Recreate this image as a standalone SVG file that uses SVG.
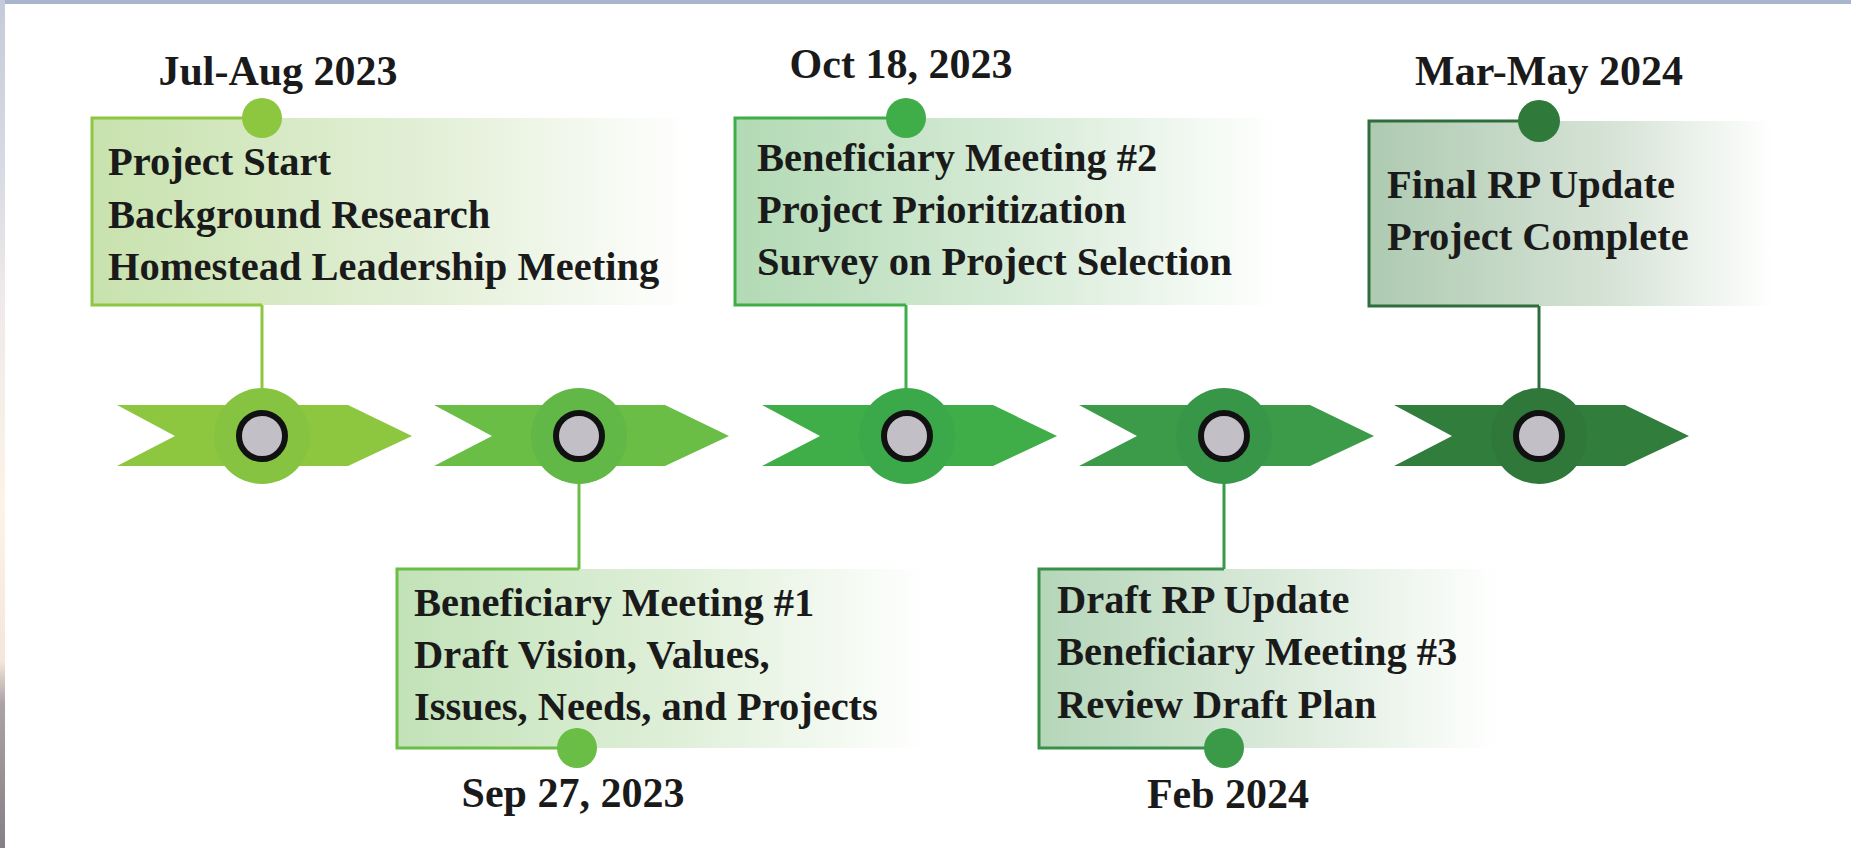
<svg xmlns="http://www.w3.org/2000/svg" xmlns:xlink="http://www.w3.org/1999/xlink" width="1851" height="848" viewBox="0 0 1851 848">
<style>
.t{font-family:"Liberation Serif","DejaVu Serif",serif;font-weight:bold;font-size:40.5px;fill:#1a1a1a}
.d{font-family:"Liberation Serif","DejaVu Serif",serif;font-weight:bold;font-size:42px;fill:#1a1a1a;text-anchor:middle}
.ring{fill:#c2c0c6;stroke:#111;stroke-width:6}
.br{fill:none;stroke-width:3}
.cn{fill:none;stroke-width:3}
</style>
<defs>
<path id="arrow" d="M-145,-31 H86 L150,0 L86,30 H-145 L-87,0 Z"/>
<linearGradient id="edge" x1="0" y1="0" x2="0" y2="1">
<stop offset="0" stop-color="#c4cbd8"/>
<stop offset="0.2" stop-color="#d8dbe3"/>
<stop offset="0.35" stop-color="#efe9ea"/>
<stop offset="0.6" stop-color="#fcf4e6"/>
<stop offset="0.78" stop-color="#f5e5da"/>
<stop offset="0.83" stop-color="#aaa2a6"/>
<stop offset="1" stop-color="#858086"/>
</linearGradient>
<linearGradient id="g1" x1="0" y1="0" x2="1" y2="0">
<stop offset="0" stop-color="#c8e2ae"/>
<stop offset="0.55" stop-color="#e2efd6"/>
<stop offset="1" stop-color="#ffffff"/>
</linearGradient>
<linearGradient id="g2" x1="0" y1="0" x2="1" y2="0">
<stop offset="0" stop-color="#c2e2b8"/>
<stop offset="0.55" stop-color="#e0f0da"/>
<stop offset="1" stop-color="#ffffff"/>
</linearGradient>
<linearGradient id="g3" x1="0" y1="0" x2="1" y2="0">
<stop offset="0" stop-color="#b2dab4"/>
<stop offset="0.55" stop-color="#d9ecd9"/>
<stop offset="1" stop-color="#ffffff"/>
</linearGradient>
<linearGradient id="g4" x1="0" y1="0" x2="1" y2="0">
<stop offset="0" stop-color="#b5d6b9"/>
<stop offset="0.55" stop-color="#dcebdc"/>
<stop offset="1" stop-color="#ffffff"/>
</linearGradient>
<linearGradient id="g5" x1="0" y1="0" x2="1" y2="0">
<stop offset="0" stop-color="#aecab1"/>
<stop offset="0.6" stop-color="#d6e3d6"/>
<stop offset="1" stop-color="#ffffff"/>
</linearGradient>
</defs>

<rect width="1851" height="848" fill="#ffffff"/>
<rect x="0" y="0" width="1851" height="4" fill="#a9b5cc"/>
<rect x="0" y="0" width="5" height="848" fill="url(#edge)"/>

<g id="connectors">
<line class="cn" x1="262" y1="305" x2="262" y2="390" stroke="#8dc63f"/>
<line class="cn" x1="579" y1="482" x2="579" y2="569" stroke="#6abd45"/>
<line class="cn" x1="906" y1="305" x2="906" y2="390" stroke="#3fae49"/>
<line class="cn" x1="1224" y1="482" x2="1224" y2="569" stroke="#3a9a48"/>
<line class="cn" x1="1539" y1="306" x2="1539" y2="390" stroke="#2e6e3c"/>
</g>

<g id="node1">
<rect x="92" y="118" width="600" height="187" fill="url(#g1)"/>
<path class="br" d="M262,118 H92 V305 H262" stroke="#8dc63f"/>
<circle cx="262" cy="118" r="20" fill="#8dc63f"/>
<text class="d" x="278" y="85">Jul-Aug 2023</text>
<text class="t" x="108" y="175">Project Start</text>
<text class="t" x="108" y="228">Background Research</text>
<text class="t" x="108" y="280">Homestead Leadership Meeting</text>
<g transform="translate(262,436)">
<use xlink:href="#arrow" fill="#8dc63f"/>
<circle r="48" fill="#86c340"/>
<circle r="23" class="ring"/>
</g>
</g>

<g id="node2">
<rect x="397" y="569" width="530" height="179" fill="url(#g2)"/>
<path class="br" d="M579,569 H397 V748 H577" stroke="#6abd45"/>
<circle cx="577" cy="748" r="20" fill="#6abd45"/>
<text class="t" x="414" y="616">Beneficiary Meeting #1</text>
<text class="t" x="414" y="668">Draft Vision, Values,</text>
<text class="t" x="414" y="720">Issues, Needs, and Projects</text>
<text class="d" x="573" y="807">Sep 27, 2023</text>
<g transform="translate(579,436)">
<use xlink:href="#arrow" fill="#6abd45"/>
<circle r="48" fill="#62b846"/>
<circle r="23" class="ring"/>
</g>
</g>

<g id="node3">
<rect x="735" y="118" width="545" height="187" fill="url(#g3)"/>
<path class="br" d="M906,118 H735 V305 H906" stroke="#3fae49"/>
<circle cx="906" cy="118" r="20" fill="#3fae49"/>
<text class="d" x="901" y="78">Oct 18, 2023</text>
<text class="t" x="757" y="171">Beneficiary Meeting #2</text>
<text class="t" x="757" y="223">Project Prioritization</text>
<text class="t" x="757" y="275">Survey on Project Selection</text>
<g transform="translate(907,436)">
<use xlink:href="#arrow" fill="#3fae49"/>
<circle r="48" fill="#3ba94a"/>
<circle r="23" class="ring"/>
</g>
</g>

<g id="node4">
<rect x="1039" y="569" width="460" height="179" fill="url(#g4)"/>
<path class="br" d="M1224,569 H1039 V748 H1224" stroke="#3a9048"/>
<circle cx="1224" cy="748" r="20" fill="#3a9a48"/>
<text class="t" x="1057" y="613">Draft RP Update</text>
<text class="t" x="1057" y="665">Beneficiary Meeting #3</text>
<text class="t" x="1057" y="718">Review Draft Plan</text>
<text class="d" x="1228" y="808">Feb 2024</text>
<g transform="translate(1224,436)">
<use xlink:href="#arrow" fill="#3c9b49"/>
<circle r="48" fill="#389648"/>
<circle r="23" class="ring"/>
</g>
</g>

<g id="node5">
<rect x="1369" y="121" width="405" height="185" fill="url(#g5)"/>
<path class="br" d="M1539,121 H1369 V306 H1539" stroke="#2e6e3c"/>
<circle cx="1539" cy="121" r="21" fill="#2f7a3a"/>
<text class="d" x="1549" y="85">Mar-May 2024</text>
<text class="t" x="1387" y="198">Final RP Update</text>
<text class="t" x="1387" y="250">Project Complete</text>
<g transform="translate(1539,436)">
<use xlink:href="#arrow" fill="#317d3b"/>
<circle r="48" fill="#2f783a"/>
<circle r="23" class="ring"/>
</g>
</g>
</svg>
